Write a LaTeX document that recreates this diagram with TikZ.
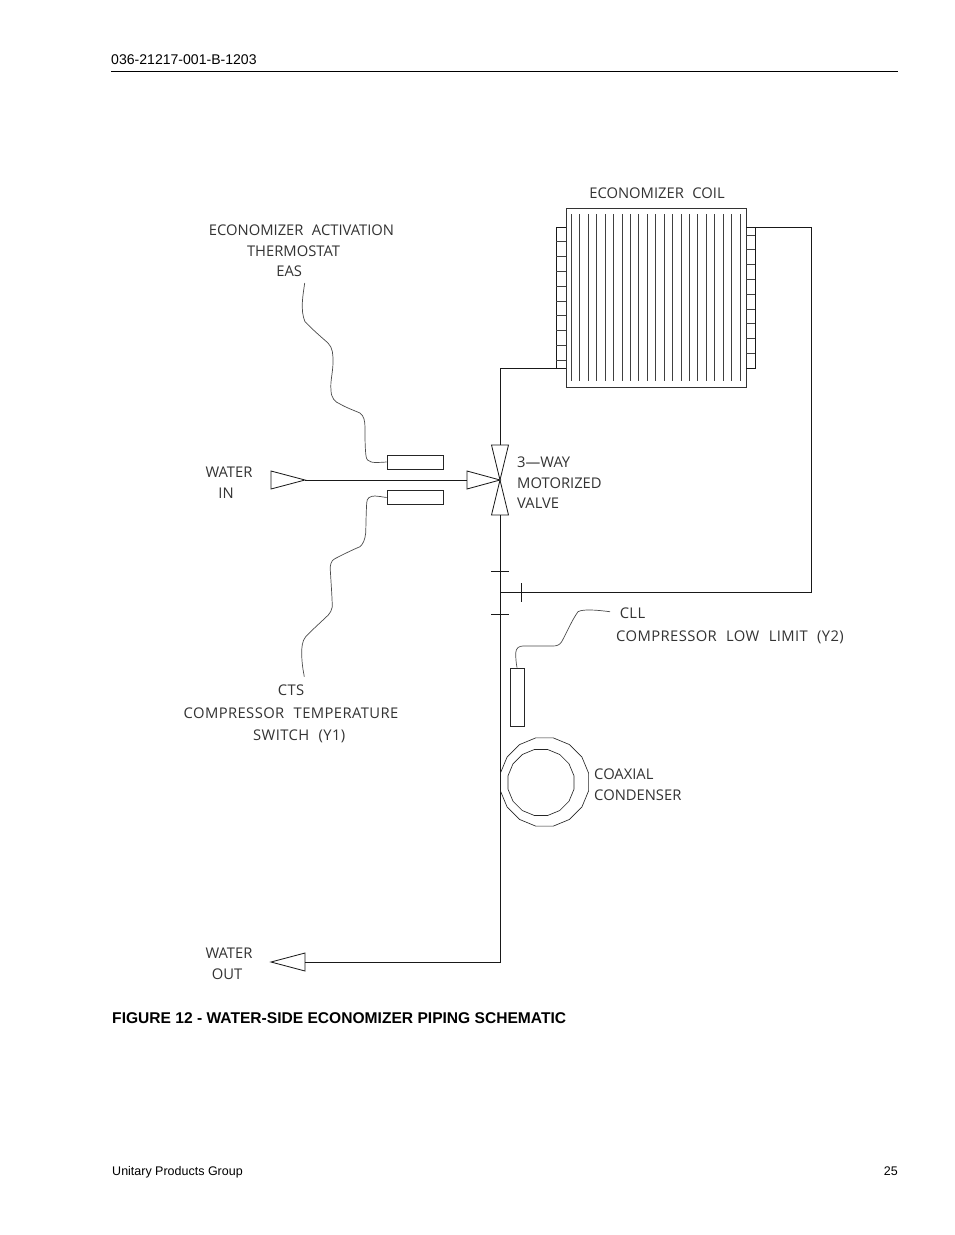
\documentclass[tikz,border=0pt]{standalone}
\usepackage{fontspec}
\setmainfont{Liberation Sans}
\newfontfamily\cadfont[WordSpace=2.2]{Open Sans}
\newfontfamily\cadwide[WordSpace=2.2,LetterSpace=2.8]{Open Sans}
\usetikzlibrary{shapes.geometric}

\begin{document}
\begin{tikzpicture}[x=0.03cm, y=-0.03cm,
    pipe/.style={black!90, line width=0.7pt},
    wire/.style={black!70, line width=0.6pt},
    fin/.style={black!75, line width=0.65pt},
    bulb/.style={draw=black!85, line width=0.65pt, rectangle, inner sep=0pt, minimum width=47.8pt, minimum height=12pt},
    ring/.style={draw=black!85, line width=0.55pt, regular polygon, regular polygon sides=16, inner sep=0pt},
    cad_label/.style={font=\cadfont\fontsize{12.6}{17.6}\selectfont, text=black!80, inner sep=0pt, align=center},
    cad_wide/.style={cad_label, font=\cadwide\fontsize{12.6}{17.6}\selectfont},
    page_text/.style={font=\fontsize{12}{14}\selectfont, inner sep=0pt, anchor=base west}
]
    \useasboundingbox (0,0) rectangle (954,1235);
    \fill[white] (0,0) rectangle (954,1235);
    % Page text
    \node[page_text] (doc_no) at (111,65) {036-21217-001-B-1203};
    \draw[line width=0.7pt] (111,71) -- (898,71);
    \node[page_text, font=\bfseries\fontsize{13.3}{15}\selectfont] (fig_title) at (112,1023) {FIGURE 12 - WATER-SIDE ECONOMIZER PIPING SCHEMATIC};
    \node[page_text, font=\fontsize{10.66}{12}\selectfont] (group_name) at (112,1175) {Unitary Products Group};
    \node[page_text, font=\fontsize{10.66}{12}\selectfont, anchor=base east] (page_no) at (898,1175) {25};
    % Coil
    \node[draw=black!80, line width=0.8pt, rectangle, inner sep=0pt, minimum width=153.6pt, minimum height=152.8pt] (coil) at (656,297.5) {};
    \foreach \i in {0,...,20}
        \draw[fin] (571.3+8.43*\i,214) -- (571.3+8.43*\i,381);
    % Headers
    \coordinate (left_top) at (556,227);
    \coordinate (left_bot) at (556,368);
    \coordinate (right_top) at (755,227);
    \coordinate (right_bot) at (755,368);
    \draw[pipe] (coil.west |- left_top) -- (left_top) -- (left_bot) -- (coil.west |- left_bot);
    \draw[pipe] (coil.east |- right_top) -- (right_top) -- (right_bot) -- (coil.east |- right_bot);
    \foreach \i in {1,...,9}
        \draw[fin] (556,227+14.8*\i) -- (566,227+14.8*\i);
    \foreach \i in {0,...,8}
        \draw[fin] (746,235+14.8*\i) -- (755,235+14.8*\i);
    % Valve
    \coordinate (valve) at (500,480);
    \coordinate (valve_top) at (500,445);
    \coordinate (valve_bot) at (500,515);
    \coordinate (valve_in) at (467,480);
    \draw[pipe] (valve) -- (491.5,445) -- (508.5,445) -- cycle;
    \draw[pipe] (valve) -- (491.5,515) -- (508.5,515) -- cycle;
    \draw[pipe] (valve) -- (467,471) -- (467,489) -- cycle;
    % Piping
    \coordinate (tee) at (500,592);
    \coordinate (bend) at (811,592);
    \coordinate (out_end) at (305,962);
    \coordinate (in_end) at (305,480);
    \draw[pipe] (valve_top) |- (left_bot);
    \draw[pipe] (right_top) -| (bend) -- (tee);
    \draw[pipe] (valve_bot) |- (out_end);
    \draw[pipe, line width=0.85pt] (in_end) -- (valve_in);
    \draw[pipe] (in_end) -- (271,471) -- (271,489) -- cycle;
    \draw[pipe] (out_end) -- (305,953) -- (271,962) -- (305,971) -- cycle;
    \draw[pipe] (491,571) -- (509,571);
    \draw[pipe] (491,614) -- (509,614);
    \draw[pipe] (521,583) -- (521,602);
    % Sensors
    \node[bulb] (eas_bulb) at (415,462) {};
    \node[bulb] (cts_bulb) at (415,497.5) {};
    \node[bulb, minimum width=12pt, minimum height=49.5pt] (cll_bulb) at (517,697) {};
    \node[ring, minimum size=76.8pt] (cond_outer) at (544.5,782) {};
    \node[ring, minimum size=57.5pt] (cond_inner) at (541,782.5) {};
    % Capillaries
    \coordinate (eas_end) at (304.7,283);
    \coordinate (cts_end) at (304.3,676.7);
    \coordinate (cll_end) at (610,611.7);
    \draw[wire] (eas_end) .. controls (303,295) and (300,310) .. (305,321.7)
        .. controls (312,329) and (320,336) .. (328,343)
        .. controls (333,348) and (333,355) .. (333,362)
        .. controls (333,372) and (330,382) .. (331,390)
        .. controls (331,398) and (335,402) .. (340,404)
        .. controls (347,408) and (353,410) .. (360,413)
        .. controls (364,416) and (365,421) .. (365,428)
        .. controls (365,438) and (365,448) .. (366,456)
        .. controls (367,463) and (372,463) .. (eas_bulb.west);
    \draw[wire] (cts_bulb.west) .. controls (382,497) and (379,496) .. (375,496)
        .. controls (370,496) and (366.7,498) .. (366.7,503)
        .. controls (366,515) and (366,525) .. (365.7,533)
        .. controls (365,540) and (363,544) .. (360,546.7)
        .. controls (352,550) and (342,555) .. (334.3,559)
        .. controls (331,561) and (330,565) .. (330.3,570)
        .. controls (331,582) and (332,595) .. (332.3,606.7)
        .. controls (332,610) and (330,613) .. (328.3,615)
        .. controls (320,623) and (312,630) .. (305.7,636.7)
        .. controls (302,641) and (301.7,648) .. (301.7,653)
        .. controls (301.7,662) and (303,670) .. (cts_end);
    \draw[wire] (cll_bulb.north) .. controls (516,662) and (515.7,658) .. (515.7,653)
        .. controls (516,648) and (519,646) .. (523,646)
        .. controls (533,646) and (543,646) .. (553,646)
        .. controls (557,646) and (559.5,645) .. (561.7,641.7)
        .. controls (567,632) and (572,620) .. (578,611.7)
        .. controls (581,610) and (586,610) .. (590,610)
        .. controls (597,610) and (604,611) .. (cll_end);
    % Labels
    \node[cad_label] (coil_label) at (657,193) {ECONOMIZER COIL};
    \node[cad_label] (eas_label) at (301.5,251) {ECONOMIZER ACTIVATION\\\hspace*{-13.6pt}THERMOSTAT\\EAS\hspace*{21pt}};
    \node[cad_label] (in_label) at (229,483) {WATER\\IN\hspace*{5pt}};
    \node[cad_label, align=left, anchor=west] (valve_label) at (517,483) {3—WAY\\MOTORIZED\\VALVE};
    \node[cad_wide, align=left, anchor=west] (cll_label) at (616,626) {\hspace*{3pt}CLL\\[2pt]COMPRESSOR LOW LIMIT (Y2)};
    \node[cad_wide] (cts_label) at (291,714) {CTS\\[1.8pt]COMPRESSOR TEMPERATURE\\[1.8pt]\hspace*{14pt}SWITCH (Y1)};
    \node[cad_label, align=left, anchor=west] (cond_label) at (594,785) {COAXIAL\\CONDENSER};
    \node[cad_label] (out_label) at (229,964) {WATER\\OUT\hspace*{3.4pt}};
\end{tikzpicture}
\end{document}
